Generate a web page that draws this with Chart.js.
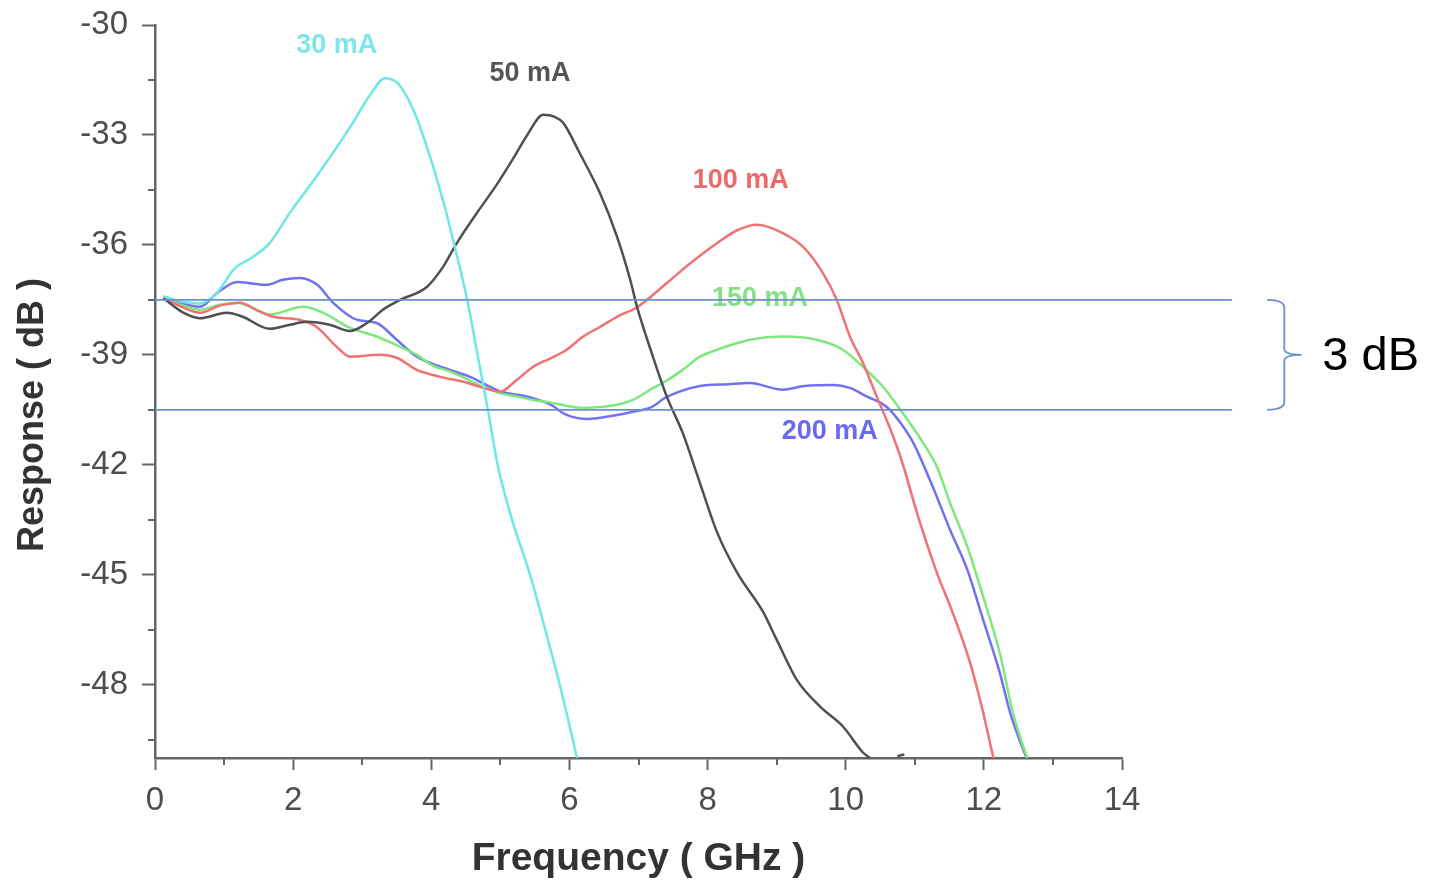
<!DOCTYPE html>
<html>
<head>
<meta charset="utf-8">
<title>Response vs Frequency</title>
<script src="https://cdn.jsdelivr.net/npm/chart.js@4.4.1/dist/chart.umd.min.js"></script>
<style>
  html, body { margin: 0; padding: 0; background: #fff; }
  #wrap { position: relative; width: 1439px; height: 884px; }
</style>
</head>
<body>
<div id="wrap"><canvas id="responseChart"></canvas></div>
<script>
// axis ticks
const xTicks = [0, 2, 4, 6, 8, 10, 12, 14];
const xMinor = [1, 3, 5, 7, 9, 11, 13];
const yTicks = [-30, -33, -36, -39, -42, -45, -48];
const yMinor = [-31.5, -34.5, -37.5, -40.5, -43.5, -46.5, -49.5];

// measured curves, [GHz, dB]
const ma30 = [[0.12,-37.4],[0.4,-37.55],[0.65,-37.6],[0.9,-37.3],[1.15,-36.65],[1.4,-36.35],[1.66,-35.95],
  [1.95,-35.13],[2.35,-34.1],[2.82,-32.8],[3.1,-31.95],[3.33,-31.45],[3.52,-31.6],[3.76,-32.4],[4.0,-33.7],
  [4.2,-35.0],[4.34,-36.05],[4.52,-37.5],[4.67,-39.0],[4.82,-40.5],[4.96,-42.0],[5.17,-43.5],[5.43,-45.0],
  [5.65,-46.5],[5.86,-48.0],[6.11,-50]];

const ma50 = [[0.12,-37.45],[0.41,-37.85],[0.65,-38.0],[1.04,-37.85],[1.27,-37.96],[1.66,-38.29],[1.95,-38.18],
  [2.2,-38.1],[2.53,-38.18],[2.82,-38.35],[3.07,-38.13],[3.3,-37.77],[3.55,-37.5],[3.94,-37.14],[4.17,-36.6],
  [4.37,-35.95],[4.66,-35.13],[4.95,-34.35],[5.2,-33.6],[5.39,-33.0],[5.62,-32.45],[5.78,-32.5],[5.91,-32.67],
  [6.15,-33.5],[6.44,-34.58],[6.69,-35.78],[6.88,-36.95],[6.98,-37.7],[7.2,-39.0],[7.41,-40.14],[7.64,-41.13],
  [7.89,-42.5],[8.14,-43.85],[8.43,-44.95],[8.8,-46.0],[9.0,-46.77],[9.29,-47.86],[9.63,-48.6],[9.96,-49.14],
  [10.25,-49.85],[10.35,-50],[10.5,null],[10.75,-49.95],[10.85,-49.9]];

const ma100 = [[0.12,-37.45],[0.4,-37.7],[0.65,-37.85],[0.95,-37.65],[1.23,-37.58],[1.5,-37.8],[1.71,-37.96],
  [2.1,-38.05],[2.34,-38.24],[2.63,-38.78],[2.82,-39.05],[3.26,-39.0],[3.5,-39.08],[3.79,-39.41],[4.13,-39.6],
  [4.52,-39.76],[4.75,-39.9],[5.0,-40.0],[5.24,-39.68],[5.47,-39.33],[5.72,-39.1],[5.96,-38.86],[6.2,-38.5],
  [6.44,-38.24],[6.7,-37.95],[6.98,-37.7],[7.41,-37.04],[7.75,-36.5],[8.14,-35.95],[8.43,-35.6],[8.72,-35.45],
  [9.09,-35.68],[9.38,-36.05],[9.67,-36.77],[9.87,-37.5],[10.06,-38.5],[10.25,-39.22],[10.45,-40.14],
  [10.69,-41.24],[10.83,-42.0],[11.03,-43.3],[11.32,-44.95],[11.55,-46.04],[11.8,-47.4],[11.99,-48.76],
  [12.12,-49.85],[12.14,-50]];

const ma150 = [[0.12,-37.45],[0.4,-37.65],[0.65,-37.77],[0.9,-37.65],[1.19,-37.58],[1.66,-37.9],[2.14,-37.69],
  [2.43,-37.85],[2.82,-38.26],[3.21,-38.5],[3.55,-38.78],[3.79,-39.0],[4.03,-39.3],[4.27,-39.45],[4.75,-39.87],
  [5.0,-40.05],[5.24,-40.14],[5.47,-40.23],[5.72,-40.3],[6.2,-40.45],[6.69,-40.36],[6.92,-40.23],[7.17,-39.95],
  [7.41,-39.7],[7.64,-39.41],[7.89,-39.05],[8.14,-38.86],[8.61,-38.59],[9.09,-38.5],[9.58,-38.59],[9.96,-38.86],
  [10.25,-39.33],[10.54,-39.87],[10.83,-40.6],[11.12,-41.4],[11.32,-42.05],[11.51,-43.04],[11.76,-44.23],
  [11.99,-45.6],[12.23,-47.13],[12.42,-48.76],[12.6,-49.85],[12.63,-50]];

const ma200 = [[0.12,-37.45],[0.4,-37.6],[0.65,-37.69],[0.9,-37.31],[1.19,-37.01],[1.4,-37.05],[1.62,-37.09],
  [1.85,-36.95],[2.1,-36.9],[2.35,-37.09],[2.58,-37.58],[2.92,-38.04],[3.21,-38.13],[3.5,-38.59],[3.79,-39.05],
  [4.27,-39.41],[4.56,-39.6],[5.0,-40.0],[5.39,-40.14],[5.72,-40.35],[5.96,-40.64],[6.25,-40.75],[6.69,-40.64],
  [6.92,-40.55],[7.17,-40.44],[7.41,-40.15],[7.89,-39.85],[8.3,-39.8],[8.61,-39.77],[9.09,-39.95],[9.4,-39.85],
  [9.82,-39.82],[10.06,-39.9],[10.31,-40.14],[10.54,-40.35],[10.64,-40.5],[10.93,-41.24],[11.03,-41.6],
  [11.26,-42.6],[11.51,-43.77],[11.76,-44.86],[11.99,-46.23],[12.23,-47.67],[12.38,-48.76],[12.57,-49.77],
  [12.62,-50]];

const seriesNames = ['30 mA', '50 mA', '100 mA', '150 mA', '200 mA'];
const seriesColors = ['#6ee8e4', '#505050', '#f07272', '#7ee87e', '#7272f0'];
const labelColors = ['#7ee6e6', '#555555', '#ee6a6a', '#86e086', '#6a6af0'];
// where each curve label sits, [GHz, dB]
const labelSpots = [[2.63,-30.55],[5.43,-31.32],[8.48,-34.24],[8.76,-37.47],[9.77,-41.1]];

// 3 dB band
const bandTop = -37.5;
const bandBottom = -40.5;
const bandText = '3 dB';

const FONT = 'Arial, "Liberation Sans", Helvetica, sans-serif';

function toPoints(arr) {
  return arr.map(p => ({ x: p[0], y: p[1] }));
}

const allSeries = [ma30, ma50, ma100, ma150, ma200];

const extras = {
  id: 'extras',
  afterDatasetsDraw(chart) {
    const ctx = chart.ctx;
    const xs = chart.scales.x, ys = chart.scales.y;
    const area = chart.chartArea;

    // minor ticks
    ctx.save();
    ctx.strokeStyle = '#666';
    ctx.lineWidth = 2;
    xMinor.forEach(v => {
      const px = Math.round(xs.getPixelForValue(v));
      ctx.beginPath(); ctx.moveTo(px, area.bottom); ctx.lineTo(px, area.bottom + 7); ctx.stroke();
    });
    yMinor.forEach(v => {
      const py = Math.round(ys.getPixelForValue(v));
      ctx.beginPath(); ctx.moveTo(area.left - 7, py); ctx.lineTo(area.left, py); ctx.stroke();
    });

    // curve labels
    ctx.font = 'bold 27px ' + FONT;
    ctx.textAlign = 'center';
    ctx.textBaseline = 'middle';
    labelSpots.forEach((s, i) => {
      ctx.fillStyle = labelColors[i];
      ctx.fillText(seriesNames[i], xs.getPixelForValue(s[0]), ys.getPixelForValue(s[1]));
    });

    // 3 dB band lines
    const lineEnd = xs.getPixelForValue(15.59);
    const yTop = ys.getPixelForValue(bandTop);
    const yBot = ys.getPixelForValue(bandBottom);
    ctx.strokeStyle = '#6b90cc';
    ctx.lineWidth = 1.8;
    [yTop, yBot].forEach(py => {
      ctx.beginPath(); ctx.moveTo(area.left, py); ctx.lineTo(lineEnd, py); ctx.stroke();
    });

    // brace
    const bx0 = xs.getPixelForValue(16.1);
    const bx1 = xs.getPixelForValue(16.35);
    const bx2 = xs.getPixelForValue(16.6);
    const mid = (yTop + yBot) / 2;
    ctx.beginPath();
    ctx.moveTo(bx0, yTop);
    ctx.quadraticCurveTo(bx1, yTop, bx1, yTop + 8);
    ctx.lineTo(bx1, mid - 6);
    ctx.quadraticCurveTo(bx1, mid, bx2, mid);
    ctx.quadraticCurveTo(bx1, mid, bx1, mid + 6);
    ctx.lineTo(bx1, yBot - 8);
    ctx.quadraticCurveTo(bx1, yBot, bx0, yBot);
    ctx.stroke();

    ctx.fillStyle = '#000';
    ctx.font = '47px ' + FONT;
    ctx.textAlign = 'left';
    ctx.textBaseline = 'middle';
    ctx.fillText(bandText, xs.getPixelForValue(16.9), mid + 2);

    // y axis title
    ctx.translate(33, 415);
    ctx.rotate(-Math.PI / 2);
    ctx.fillStyle = '#333';
    ctx.font = 'bold 36px ' + FONT;
    ctx.textAlign = 'center';
    ctx.fillText('Response ( dB )', 0, 0);
    ctx.restore();
  }
};

const ctx = document.getElementById('responseChart').getContext('2d');
const responseChart = new Chart(ctx, {
  type: 'line',
  data: {
    datasets: allSeries.map((s, i) => ({
      label: seriesNames[i],
      data: toPoints(s),
      borderColor: seriesColors[i],
      borderWidth: 2.5,
      pointRadius: 0,
      fill: false,
      cubicInterpolationMode: 'monotone',
      spanGaps: false
    }))
  },
  options: {
    responsive: true,
    maintainAspectRatio: false,
    animation: false,
    devicePixelRatio: 1,
    layout: { padding: { left: 0, top: 25, right: 317, bottom: 0 } },
    plugins: {
      legend: { display: false },
      tooltip: { enabled: false }
    },
    scales: {
      x: {
        type: 'linear',
        min: 0,
        max: 14,
        afterBuildTicks: s => { s.ticks = xTicks.map(v => ({ value: v })); },
        afterFit: s => { s.height = 126; s.paddingLeft = 0; s.paddingRight = 0; },
        grid: { drawOnChartArea: false, tickLength: 12, color: '#666', tickWidth: 2 },
        border: { color: '#666', width: 2.5 },
        ticks: { color: '#4d4d4d', font: { size: 33, family: FONT }, padding: 11, maxRotation: 0, autoSkip: false },
        title: {
          display: true,
          text: 'Frequency ( GHz )',
          color: '#333',
          font: { size: 39, weight: 'bold', family: FONT },
          padding: { top: 0, bottom: 1 }
        }
      },
      y: {
        type: 'linear',
        min: -50,
        max: -30,
        afterBuildTicks: s => { s.ticks = yTicks.map(v => ({ value: v })); },
        afterFit: s => { s.width = 155; s.paddingTop = 0; s.paddingBottom = 0; },
        grid: { drawOnChartArea: false, tickLength: 13, color: '#666', tickWidth: 2 },
        border: { color: '#666', width: 2.5 },
        ticks: { color: '#4d4d4d', font: { size: 33, family: FONT }, padding: 14 }
      }
    }
  },
  plugins: [extras]
});
</script>
</body>
</html>
